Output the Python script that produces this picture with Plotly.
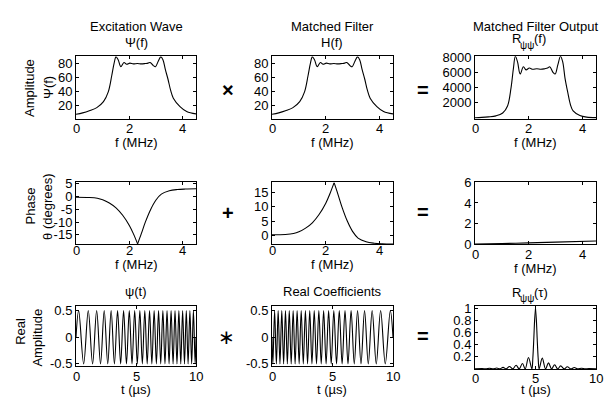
import plotly.graph_objects as go

W, H = 605, 414
FONT = "Liberation Sans, Arial, sans-serif"

# ---- frequency domain: magnitude -------------------------------------------
freq_mhz = [0.00, 0.25, 0.50, 0.78, 1.03, 1.21, 1.34, 1.43, 1.50, 1.58, 1.68,
            1.80, 1.90, 2.02, 2.15, 2.30, 2.45, 2.60, 2.70, 2.78, 2.90, 2.98,
            3.08, 3.18, 3.26, 3.35, 3.45, 3.55, 3.65, 3.90, 4.15, 4.50]
psi_amp = [8.0, 10.0, 13.0, 17.5, 26.0, 40.0, 63.0, 81.0, 90.0, 86.0, 76.0,
           82.0, 79.5, 81.0, 80.0, 80.5, 80.0, 80.5, 81.0, 82.0, 77.5, 76.0,
           83.5, 90.0, 86.0, 72.0, 58.0, 42.0, 31.0, 19.0, 12.0, 8.5]
h_amp = [8.0, 10.0, 13.0, 17.5, 26.0, 40.0, 63.0, 81.0, 90.0, 86.0, 76.0,
         82.0, 79.5, 81.0, 80.0, 80.5, 80.0, 80.5, 81.0, 82.0, 77.5, 76.0,
         83.5, 90.0, 86.0, 72.0, 58.0, 42.0, 31.0, 19.0, 12.0, 8.5]
out_amp = [64, 100, 169, 306, 676, 1600, 3969, 6561, 8100, 7396, 5776,
           6724, 6320, 6561, 6400, 6480, 6400, 6480, 6561, 6724, 6006, 5776,
           6972, 8100, 7396, 5184, 3364, 1764, 961, 361, 144, 72]

# ---- frequency domain: phase (degrees) -------------------------------------
phase_f = [0.0, 0.5, 0.8, 1.0, 1.25, 1.5, 1.75, 2.0, 2.15, 2.31, 2.45, 2.6,
           2.8, 3.0, 3.2, 3.5, 3.8, 4.1, 4.5]
psi_phase = [-0.2, -0.3, -0.6, -1.2, -2.5, -4.4, -7.3, -11.3, -14.5, -18.5,
             -14.5, -10.0, -5.0, -1.3, 1.0, 2.3, 2.8, 3.0, 3.1]
h_phase = [0.2, 0.3, 0.6, 1.2, 2.5, 4.4, 7.3, 11.3, 14.5, 18.5,
           14.5, 10.0, 5.0, 1.3, -1.0, -2.3, -2.8, -3.0, -3.1]
sum_f = [0.0, 1.0, 2.0, 3.0, 4.5]
sum_phase = [0.0, 0.05, 0.12, 0.19, 0.3]

# ---- time domain: chirp extrema (µs) and values ----------------------------
psi_t = [0.0, 0.222, 0.638, 1.022, 1.382, 1.722, 2.044, 2.351, 2.646, 2.928,
         3.201, 3.464, 3.719, 3.966, 4.206, 4.440, 4.668, 4.891, 5.108, 5.321,
         5.529, 5.733, 5.933, 6.129, 6.322, 6.511, 6.698, 6.881, 7.061, 7.239,
         7.414, 7.586, 7.756, 7.924, 8.089, 8.252, 8.414, 8.573, 8.731, 8.886,
         9.040, 9.192, 9.342, 9.491, 9.638, 9.784, 9.928, 10.0]
psi_v = [0.0, 0.5, -0.5, 0.5, -0.5, 0.5, -0.5, 0.5, -0.5, 0.5, -0.5, 0.5,
         -0.5, 0.5, -0.5, 0.5, -0.5, 0.5, -0.5, 0.5, -0.5, 0.5, -0.5, 0.5,
         -0.5, 0.5, -0.5, 0.5, -0.5, 0.5, -0.5, 0.5, -0.5, 0.5, -0.5, 0.5,
         -0.5, 0.5, -0.5, 0.5, -0.5, 0.5, -0.5, 0.5, -0.5, 0.5, -0.5, 0.0]
coef_t = [0.0, 0.072, 0.216, 0.362, 0.509, 0.658, 0.808, 0.960, 1.114, 1.269,
          1.427, 1.586, 1.748, 1.911, 2.076, 2.244, 2.414, 2.586, 2.761, 2.939,
          3.119, 3.302, 3.489, 3.678, 3.871, 4.067, 4.267, 4.471, 4.679, 4.892,
          5.109, 5.332, 5.560, 5.794, 6.034, 6.281, 6.536, 6.799, 7.072, 7.354,
          7.649, 7.956, 8.278, 8.618, 8.978, 9.362, 9.778, 10.0]
coef_v = [0.0, -0.5, 0.5, -0.5, 0.5, -0.5, 0.5, -0.5, 0.5, -0.5, 0.5, -0.5,
          0.5, -0.5, 0.5, -0.5, 0.5, -0.5, 0.5, -0.5, 0.5, -0.5, 0.5, -0.5,
          0.5, -0.5, 0.5, -0.5, 0.5, -0.5, 0.5, -0.5, 0.5, -0.5, 0.5, -0.5,
          0.5, -0.5, 0.5, -0.5, 0.5, -0.5, 0.5, -0.5, 0.5, -0.5, 0.5, 0.0]

# ---- compressed pulse |R(τ)| ------------------------------------------------
tau_us = [0.0, 0.6, 0.9, 1.2, 1.5, 1.8, 2.05, 2.32, 2.58, 2.85, 3.12, 3.4,
          3.65, 3.92, 4.15, 4.42, 4.70, 4.78, 4.86, 4.93, 5.0, 5.07, 5.14,
          5.22, 5.30, 5.56, 5.83, 6.07, 6.33, 6.58, 6.83, 7.08, 7.37, 7.63,
          7.93, 8.2, 8.5, 8.8, 9.1, 9.4, 10.0]
r_tau = [0.0, 0.004, 0.0, 0.01, 0.0, 0.016, 0.0, 0.025, 0.0, 0.04, 0.0, 0.06,
         0.0, 0.09, 0.0, 0.19, 0.0, 0.18, 0.5, 0.82, 1.0, 0.82, 0.5,
         0.18, 0.0, 0.18, 0.0, 0.10, 0.0, 0.07, 0.0, 0.05, 0.0, 0.035,
         0.0, 0.022, 0.0, 0.012, 0.0, 0.005, 0.0]

# ---- tick labels -------------------------------------------------------------
f_ticks = [0, 2, 4]
t_ticks = [0, 5, 10]
amp_ticks = [20, 40, 60, 80]
out_ticks = [2000, 4000, 6000, 8000]
psi_phase_ticks = [-15, -10, -5, 0, 5]
h_phase_ticks = [0, 5, 10, 15]
sum_ticks = [0, 2, 4, 6]
wave_ticks = [-0.5, 0, 0.5]
r_ticks = [0.2, 0.4, 0.6, 0.8, 1]

# ---- panel geometry (pixels) ------------------------------------------------
cols = [(76, 196), (272, 393), (475, 596)]
rows = [(51, 116), (182, 246), (310.5, 372.5)]

fig = go.Figure()


def px_x(x):
    return x / W


def px_y(y):
    return 1 - y / H


def label(v):
    # plain hyphen-minus for negative numbers
    return str(v)


def text(x, y, s, size=13, angle=0, xref="paper", anchor="center"):
    fig.add_annotation(x=x if xref != "paper" else px_x(x), y=px_y(y),
                       xref=xref, yref="paper", text=s, showarrow=False,
                       textangle=angle, xanchor=anchor, yanchor="middle",
                       borderpad=0,
                       font=dict(family=FONT, size=size, color="black"))


def panel(idx, col, row, xr, yr, xt, yt, xlab_y, top=None, bottom=None):
    x0, x1 = cols[col]
    y0, y1 = rows[row]
    if top is not None:
        y0 = top
    if bottom is not None:
        y1 = bottom
    sfx = "" if idx == 1 else str(idx)
    common = dict(showline=True, linecolor="black", linewidth=1,
                  mirror="ticks", ticks="inside", ticklen=3,
                  tickcolor="black", tickwidth=1, showgrid=False,
                  zeroline=False,
                  tickfont=dict(family=FONT, size=13, color="black"))
    fig.layout["xaxis" + sfx] = dict(
        domain=[px_x(x0), px_x(x1)], range=xr, anchor="y" + sfx,
        tickvals=xt, showticklabels=False, **common)
    fig.layout["yaxis" + sfx] = dict(
        domain=[px_y(y1), px_y(y0)], range=yr, anchor="x" + sfx,
        tickvals=yt, ticktext=[label(v) for v in yt], **common)
    for v in xt:
        text(v, xlab_y, label(v), xref="x" + sfx)


def line(idx, x, y):
    sfx = "" if idx == 1 else str(idx)
    fig.add_trace(go.Scatter(
        x=x, y=y, mode="lines", xaxis="x" + sfx, yaxis="y" + sfx,
        line=dict(color="black", width=1.1, shape="spline"),
        showlegend=False, hoverinfo="skip"))


def cusp_line(idx, x, y, k):
    # draw the two branches separately so the cusp stays sharp
    line(idx, x[:k + 1], y[:k + 1])
    line(idx, x[k:], y[k:])


panel(1, 0, 0, [0, 4.5], [1.5, 91], f_ticks, amp_ticks, 126.5)
panel(2, 1, 0, [0, 4.5], [1.5, 91], f_ticks, amp_ticks, 126.5)
panel(3, 2, 0, [0, 4.5], [-80, 8120], f_ticks, out_ticks, 126.5)
panel(4, 0, 1, [0, 4.5], [-18.6, 5.6], f_ticks, psi_phase_ticks, 252.5)
panel(5, 1, 1, [0, 4.5], [-3.1, 18.6], f_ticks, h_phase_ticks, 252.5)
panel(6, 2, 1, [0, 4.5], [0, 6], f_ticks, sum_ticks, 256.5)
panel(7, 0, 2, [0, 10], [-0.54, 0.58], t_ticks, wave_ticks, 383.5)
panel(8, 1, 2, [0, 10], [-0.54, 0.58], t_ticks, wave_ticks, 383.5)
panel(9, 2, 2, [0, 10], [0, 1.05], t_ticks, r_ticks, 385.5,
      top=310, bottom=375.5)

line(1, freq_mhz, psi_amp)
line(2, freq_mhz, h_amp)
line(3, freq_mhz, out_amp)
k_min = psi_phase.index(min(psi_phase))
cusp_line(4, phase_f, psi_phase, k_min)
k_max = h_phase.index(max(h_phase))
cusp_line(5, phase_f, h_phase, k_max)
line(6, sum_f, sum_phase)
line(7, psi_t, psi_v)
line(8, coef_t, coef_v)
k_peak = r_tau.index(max(r_tau))
cusp_line(9, tau_us, r_tau, k_peak)

# column titles
text(136, 20, "Excitation Wave")
text(136, 37, "Ψ(f)")
text(332.5, 20, "Matched Filter")
text(332.5, 37, "H(f)")
text(535, 20, "Matched Filter Output")
text(136, 295, "ψ(t)")
text(332.5, 295, "Real Coefficients")


def r_psipsi(x_left, y, arg):
    # R with a lowered ψψ subscript, then the argument
    text(x_left, y, "R", anchor="left")
    text(x_left + 8.5, y + 6.5, "ψψ", size=10, anchor="left")
    text(x_left + 22.5, y, arg, anchor="left")


r_psipsi(510.5, 33, "(f)")
r_psipsi(510.5, 296, "(τ)")

# row labels
text(30, 84, "Amplitude", angle=-90)
text(49, 84, "Ψ(f)", angle=-90)
text(30, 207, "Phase", angle=-90)
text(47.5, 208, "θ (degrees)", angle=-90)
text(21, 337, "Real", angle=-90)
text(38, 343, "Amplitude", angle=-90)

# x-axis labels
for cx in (136, 332.5, 535.5):
    text(cx, 141, "f (MHz)")
text(136, 267, "f (MHz)")
text(332.5, 267.5, "f (MHz)")
text(535.5, 271, "f (MHz)")
for cx in (136, 332.5, 536):
    text(cx, 397, "t (µs)")

# operators between columns
text(228, 86, "<b>×</b>", size=20)
text(422.5, 86, "<b>=</b>", size=20)
text(227.5, 214, "<b>+</b>", size=20)
text(422.5, 212.5, "<b>=</b>", size=20)
text(226, 342, "∗", size=20)
text(422.5, 341, "<b>=</b>", size=20)

fig.update_layout(width=W, height=H, margin=dict(l=0, r=0, t=0, b=0),
                  paper_bgcolor="white", plot_bgcolor="white",
                  font=dict(family=FONT, size=13, color="black"))

fig.write_html("out.html")
